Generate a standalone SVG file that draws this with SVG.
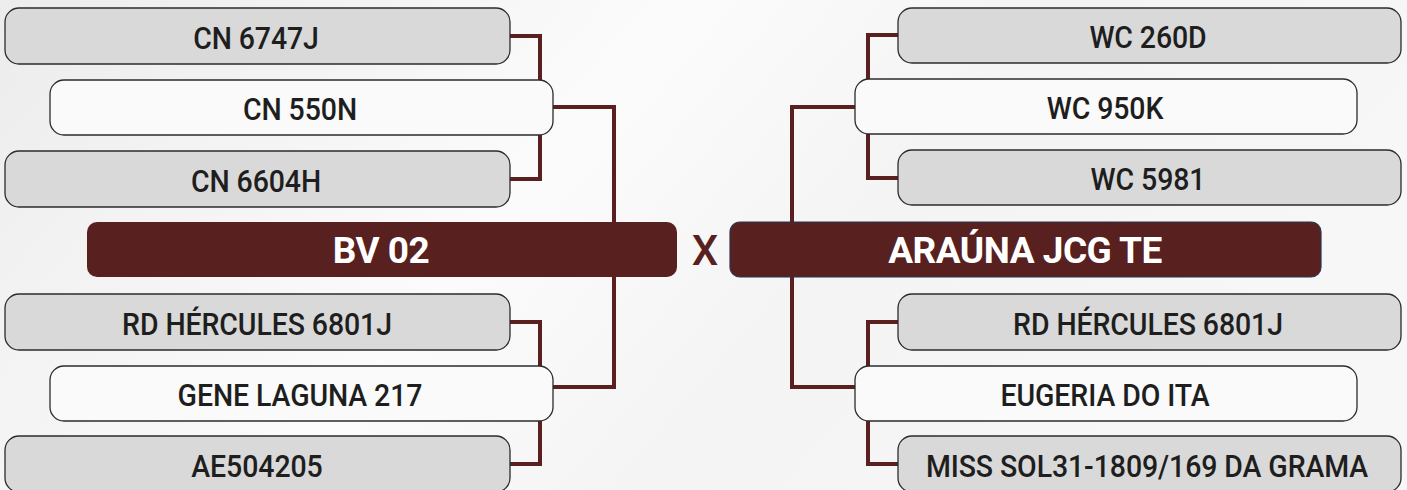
<svg xmlns="http://www.w3.org/2000/svg" width="1407" height="490" viewBox="0 0 1407 490">
<defs>
<linearGradient id="bg" x1="0" y1="0" x2="1" y2="0.3">
<stop offset="0" stop-color="#ececec"/>
<stop offset="0.45" stop-color="#fbfbfb"/>
<stop offset="0.7" stop-color="#f4f4f4"/>
<stop offset="1" stop-color="#f7f7f7"/>
</linearGradient>
<style>
.g{fill:#d9d9d9;stroke:#2b2b2b;stroke-width:1.3}
.w{fill:#fafafa;stroke:#2b2b2b;stroke-width:1.3}
.bar{fill:#58201f}
.t{font-family:Roboto,"Liberation Sans",sans-serif;font-weight:500;font-size:32px;fill:#1e1e1e;text-anchor:middle;letter-spacing:-0.1px}
.bt{font-family:Roboto,"Liberation Sans",sans-serif;font-weight:700;font-size:37px;fill:#ffffff;text-anchor:middle;letter-spacing:-0.5px}
.ln{fill:none;stroke:#5a1f1f;stroke-width:4}
</style>
</defs>
<rect width="1407" height="490" fill="url(#bg)"/>
<g id="connectors">
<polyline class="ln" points="510,36 540,36 540,179 510,179"/>
<polyline class="ln" points="553,107 614,107 614,387 553,387"/>
<polyline class="ln" points="510,322 540,322 540,464 510,464"/>
<polyline class="ln" points="898,35 868,35 868,178 898,178"/>
<polyline class="ln" points="855,107 792,107 792,387 855,387"/>
<polyline class="ln" points="898,322 868,322 868,464 898,464"/>
</g>
<g id="cn6747j"><rect class="g" x="5" y="8" width="505" height="56" rx="14"/><text class="t" transform="translate(256,48.5) scale(0.89,1)">CN 6747J</text></g>
<g id="cn6604h"><rect class="g" x="5" y="151" width="505" height="56" rx="14"/><text class="t" transform="translate(256,191.5) scale(0.89,1)">CN 6604H</text></g>
<g id="cn550n"><rect class="w" x="50" y="80" width="503" height="55" rx="14"/><text class="t" transform="translate(300,120) scale(0.89,1)">CN 550N</text></g>
<g id="bv02"><rect class="bar" x="87" y="222" width="590" height="55" rx="10"/><text class="bt" x="381" y="263">BV 02</text></g>
<g id="rdhercules-l"><rect class="g" x="5" y="294" width="505" height="56" rx="14"/><text class="t" transform="translate(257,334.5) scale(0.89,1)">RD HÉRCULES 6801J</text></g>
<g id="ae504205"><rect class="g" x="5" y="436" width="505" height="56" rx="14"/><text class="t" transform="translate(257,476.5) scale(0.89,1)">AE504205</text></g>
<g id="genelaguna"><rect class="w" x="50" y="366" width="503" height="55" rx="14"/><text class="t" transform="translate(300,406) scale(0.89,1)">GENE LAGUNA 217</text></g>
<g id="x"><text x="705" y="265" style="font-family:Roboto,'Liberation Sans',sans-serif;font-weight:500;font-size:42px;fill:#5a1f1f;text-anchor:middle">X</text></g>
<g id="wc260d"><rect class="g" x="898" y="8" width="503" height="55" rx="14"/><text class="t" transform="translate(1148,48) scale(0.89,1)">WC 260D</text></g>
<g id="wc5981"><rect class="g" x="898" y="150" width="503" height="55" rx="14"/><text class="t" transform="translate(1148,190) scale(0.89,1)">WC 5981</text></g>
<g id="wc950k"><rect class="w" x="855" y="79" width="502" height="55" rx="14"/><text class="t" transform="translate(1105,119) scale(0.89,1)">WC 950K</text></g>
<g id="arauna"><rect class="bar" x="730" y="222" width="591" height="55" rx="10" stroke="#2a3550" stroke-width="1.2"/><text class="bt" x="1025" y="263">ARAÚNA JCG TE</text></g>
<g id="rdhercules-r"><rect class="g" x="898" y="294" width="503" height="56" rx="14"/><text class="t" transform="translate(1148,334.5) scale(0.89,1)">RD HÉRCULES 6801J</text></g>
<g id="misssol"><rect class="g" x="898" y="436" width="503" height="56" rx="14"/><text class="t" transform="translate(1147,476.5) scale(0.89,1)">MISS SOL31-1809/169 DA GRAMA</text></g>
<g id="eugeria"><rect class="w" x="855" y="366" width="502" height="55" rx="14"/><text class="t" transform="translate(1105,406) scale(0.89,1)">EUGERIA DO ITA</text></g>
</svg>
